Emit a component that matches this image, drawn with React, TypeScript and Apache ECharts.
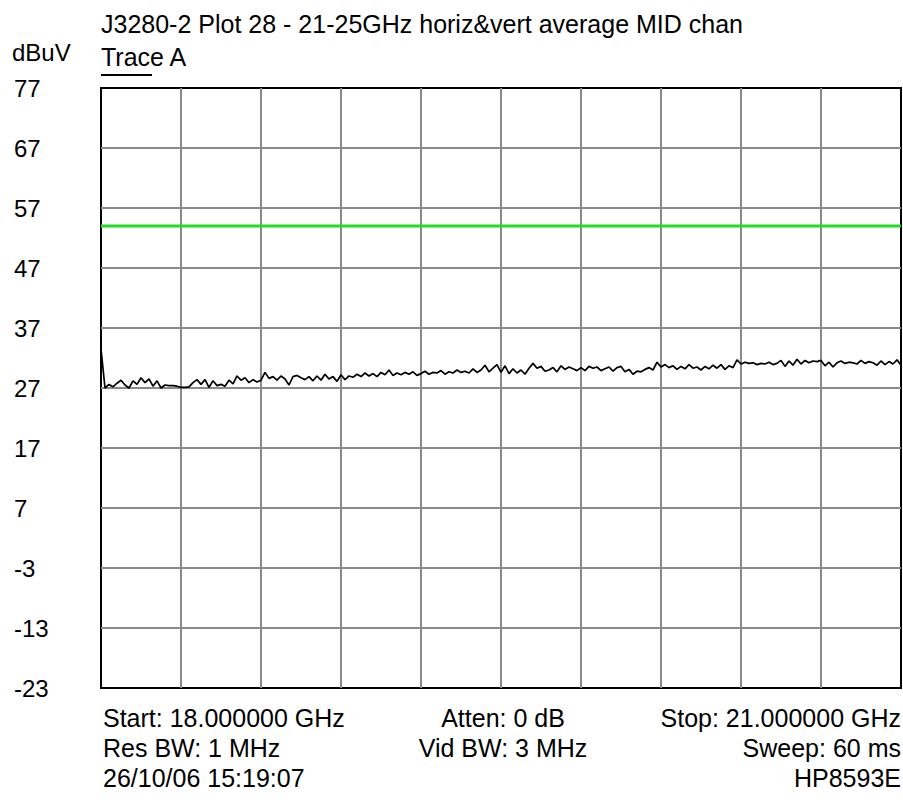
import React, { useEffect, useRef } from "react";
import * as echarts from "echarts";

const startMHz = 18000;
const stopMHz = 21000;
const stepMHz = 15;
const yTicks = { min: -23, max: 77, interval: 10 };
const limitValue = 54;

const traceA: number[] = [
  33.5, 27.0, 27.6, 27.2, 27.8, 28.3, 27.5, 27.0, 28.2, 27.6, 28.7, 27.9, 28.5, 27.3, 28.2, 27.0, 27.5, 27.4, 27.4, 27.3,
  27.1, 27.1, 27.2, 27.9, 28.4, 27.6, 28.4, 27.1, 28.2, 27.4, 27.6, 27.3, 28.3, 27.7, 29.0, 28.3, 28.7, 27.9, 28.4, 28.0,
  28.3, 29.6, 28.6, 28.9, 28.3, 29.0, 28.5, 27.5, 28.9, 29.1, 28.7, 28.4, 28.9, 28.2, 29.0, 28.3, 29.3, 28.5, 28.9, 28.1,
  29.2, 28.4, 29.0, 28.8, 29.3, 28.9, 29.5, 29.0, 29.4, 28.9, 29.6, 29.2, 30.0, 29.1, 29.5, 29.2, 29.6, 29.3, 29.7, 29.1,
  29.4, 29.8, 29.3, 29.6, 29.5, 29.9, 29.3, 29.7, 29.5, 30.0, 29.6, 29.8, 29.5, 30.2, 29.6, 30.0, 30.8, 29.7, 30.3, 30.9,
  29.6, 30.7, 29.4, 30.2, 29.5, 30.0, 29.3, 30.3, 31.1, 30.3, 30.6, 29.8, 30.0, 30.4, 29.7, 30.7, 30.1, 30.5, 30.2, 29.9,
  30.4, 29.9, 30.6, 30.3, 30.5, 29.9, 30.2, 30.5, 29.8, 30.4, 30.6, 29.7, 30.1, 29.3, 29.8, 29.7, 30.1, 30.4, 30.0, 31.3,
  30.5, 30.9, 30.4, 30.7, 30.1, 30.6, 30.2, 30.9, 30.3, 30.5, 30.0, 30.6, 30.2, 30.8, 30.3, 30.9, 30.1, 30.7, 30.4, 31.7,
  31.0, 31.3, 31.1, 31.2, 30.9, 31.1, 31.0, 31.3, 30.9, 31.1, 31.6, 30.6, 31.5, 30.8, 31.8, 31.0, 31.6, 31.2, 31.5, 31.4,
  31.6, 30.7, 31.3, 30.5, 31.2, 31.5, 31.1, 31.3, 31.2, 31.0, 31.6, 31.1, 31.4, 31.2, 30.8, 31.5, 30.9, 31.4, 31.0, 31.7,
  30.8,
];

const titleText = "J3280-2 Plot 28 - 21-25GHz horiz&vert average MID chan";
const unitText = "dBuV";
const traceLabel = "Trace A";
const footerLeft = ["Start: 18.000000 GHz", "Res BW: 1 MHz", "26/10/06 15:19:07"];
const footerMid = ["Atten: 0 dB", "Vid BW: 3 MHz"];
const footerRight = ["Stop: 21.000000 GHz", "Sweep: 60 ms", "HP8593E"];

const FONT = "'Liberation Sans', Arial, sans-serif";
const FS = 25;

export default function App() {
  const ref = useRef<HTMLDivElement>(null);
  useEffect(() => {
    if (!ref.current) return;
    const chart = echarts.init(ref.current, undefined, { renderer: "svg" });
    const traceData = traceA.map((v, i) => [startMHz + i * stepMHz, v]);
    const limitData = [
      [startMHz, limitValue],
      [stopMHz, limitValue],
    ];
    const txt = (text: string, x: number, y: number, align: string, fs = FS) => ({
      type: "text",
      x,
      y,
      style: {
        text,
        fill: "#000",
        font: `${fs}px ${FONT}`,
        textAlign: align,
        textVerticalAlign: "middle",
      },
    });
    const rowsY = [718, 748, 778];
    const graphics: any[] = [
      txt(titleText, 101, 24, "left"),
      txt(unitText, 12, 52, "left", 24),
      txt(traceLabel, 101, 57, "left"),
      {
        type: "line",
        shape: { x1: 101, y1: 75, x2: 152, y2: 75 },
        style: { stroke: "#000", lineWidth: 2 },
      },
    ];
    footerLeft.forEach((t, i) => graphics.push(txt(t, 103, rowsY[i], "left")));
    footerMid.forEach((t, i) => graphics.push(txt(t, 503, rowsY[i], "center")));
    footerRight.forEach((t, i) => graphics.push(txt(t, 901, rowsY[i], "right")));

    chart.setOption({
      animation: false,
      backgroundColor: "#fff",
      grid: {
        left: 101,
        top: 88,
        width: 800,
        height: 600,
        show: true,
        borderColor: "#000",
        borderWidth: 2,
        backgroundColor: "transparent",
      },
      xAxis: {
        type: "value",
        min: startMHz,
        max: stopMHz,
        interval: 300,
        axisLine: { show: false },
        axisTick: { show: false },
        axisLabel: { show: false },
        splitLine: {
          show: true,
          showMinLine: false,
          showMaxLine: false,
          lineStyle: { color: "#8a8a8a", width: 2 },
        },
      },
      yAxis: {
        type: "value",
        min: yTicks.min,
        max: yTicks.max,
        interval: yTicks.interval,
        axisLine: { show: false },
        axisTick: { show: false },
        axisLabel: {
          show: true,
          align: "left",
          margin: 87,
          color: "#000",
          fontSize: 24,
          fontFamily: FONT,
        },
        splitLine: {
          show: true,
          showMinLine: false,
          showMaxLine: false,
          lineStyle: { color: "#8a8a8a", width: 2 },
        },
      },
      series: [
        {
          type: "line",
          data: limitData,
          symbol: "none",
          lineStyle: { color: "#22dd22", width: 3 },
          z: 3,
        },
        {
          type: "line",
          data: traceData,
          symbol: "none",
          lineStyle: { color: "#000", width: 1.7 },
          z: 4,
        },
      ],
      graphic: graphics,
    });
    return () => chart.dispose();
  }, []);
  return (
    <div
      ref={ref}
      style={{ position: "absolute", left: 0, top: 0, width: 903, height: 803 }}
    />
  );
}
